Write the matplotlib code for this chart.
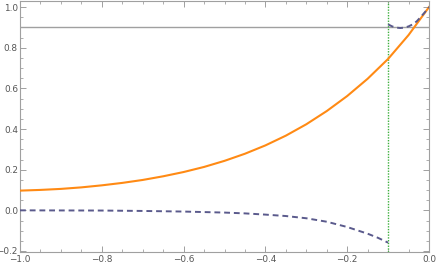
import matplotlib.pyplot as plt
from matplotlib.ticker import MultipleLocator

# Data
x_orange = [-1.00, -0.95, -0.90, -0.85, -0.80, -0.75, -0.70, -0.65, -0.60, -0.55,
            -0.50, -0.45, -0.40, -0.35, -0.30, -0.25, -0.20, -0.15, -0.10, -0.05, 0.00]
y_orange = [0.097, 0.1005, 0.1055, 0.113, 0.123, 0.135, 0.1495, 0.1675, 0.1885, 0.2135,
            0.2435, 0.2785, 0.3195, 0.3675, 0.4235, 0.4885, 0.5625, 0.6475, 0.745, 0.8625, 1.000]

x_low = [-1.00, -0.90, -0.80, -0.70, -0.60, -0.50, -0.45, -0.40, -0.35, -0.30,
         -0.25, -0.20, -0.15, -0.125, -0.10]
y_low = [0.000, -0.0005, -0.001, -0.003, -0.006, -0.011, -0.015, -0.021, -0.028, -0.039,
         -0.056, -0.082, -0.115, -0.135, -0.159]

x_high = [-0.10, -0.09, -0.08, -0.07, -0.06, -0.05, -0.04, -0.03, -0.02, -0.01, 0.00]
y_high = [0.915, 0.905, 0.899, 0.897, 0.899, 0.905, 0.915, 0.930, 0.952, 0.975, 1.000]

h_level = 0.9
v_cut = -0.1

fig = plt.figure(figsize=(4.36, 2.67), dpi=100)
ax = fig.add_axes([20 / 436, 15.3 / 267, 409 / 436, 250.7 / 267])

ax.axhline(h_level, color='#a0a0a0', lw=1.0, zorder=1)
ax.axvline(v_cut, color='#3fb03f', lw=1.0, ls=(0, (1, 1)), zorder=2)
ax.plot(x_orange, y_orange, color='#ff8a14', lw=1.5, zorder=3)
ax.plot(x_low, y_low, color='#5a5a8c', lw=1.4, ls=(0, (3, 2)), zorder=4)
ax.plot(x_high, y_high, color='#5a5a8c', lw=1.4, ls=(0, (3, 2)), zorder=4)

ax.set_xlim(-1.0, 0.0)
ax.set_ylim(-0.2035, 1.03)

ax.xaxis.set_major_locator(MultipleLocator(0.2))
ax.xaxis.set_minor_locator(MultipleLocator(0.05))
ax.yaxis.set_major_locator(MultipleLocator(0.2))
ax.yaxis.set_minor_locator(MultipleLocator(0.05))
ax.xaxis.set_major_formatter(lambda v, p: f'{v:.1f}'.replace('-', '\u2212'))
ax.yaxis.set_major_formatter(lambda v, p: f'{v:.1f}'.replace('-', '\u2212'))

for s in ax.spines.values():
    s.set_color('#a0a0a0')
    s.set_linewidth(0.8)

ax.tick_params(which='both', direction='in', top=True, right=True,
               color='#a0a0a0', labelsize=6.4, labelcolor='#555555')
ax.tick_params(axis='y', pad=1.5)
ax.tick_params(axis='x', pad=2.5)
ax.tick_params(which='major', length=4, width=0.7)
ax.tick_params(which='minor', length=2.2, width=0.6)

fig.savefig('out.png', dpi=100)
